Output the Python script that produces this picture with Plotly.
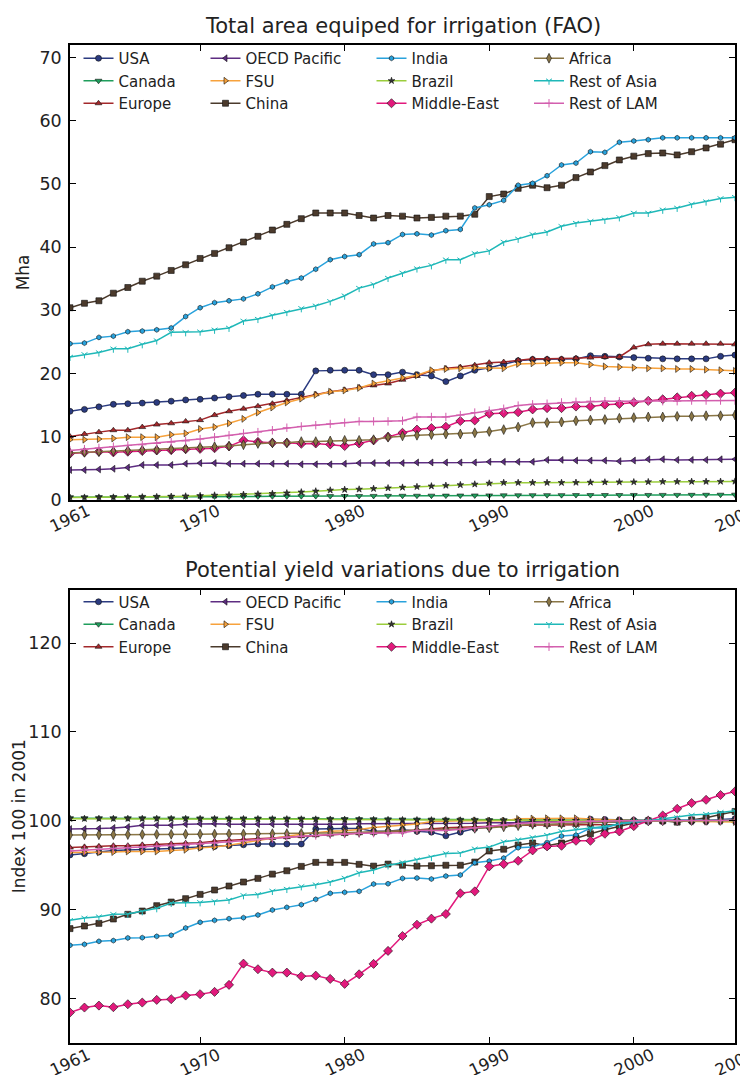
import plotly.graph_objects as go

years = list(range(1961, 2008))

regions = ["USA", "Canada", "Europe", "OECD Pacific", "FSU", "China",
           "India", "Brazil", "Middle-East", "Africa", "Rest of Asia", "Rest of LAM"]

# ---- Total area equipped for irrigation (Mha) ----
area_usa = [14.0, 14.3, 14.7, 15.1, 15.2, 15.3, 15.4, 15.6, 15.8, 15.9,
            16.1, 16.3, 16.5, 16.7, 16.7, 16.7, 16.7, 20.4, 20.5, 20.5,
            20.5, 19.8, 19.8, 20.2, 19.8, 19.6, 18.7, 19.6, 20.5, 20.9,
            21.4, 22.0, 22.2, 22.2, 22.2, 22.3, 22.8, 22.7, 22.6, 22.5,
            22.4, 22.3, 22.3, 22.3, 22.3, 22.7, 22.9]
area_canada = [0.40, 0.40, 0.41, 0.42, 0.43, 0.44, 0.45, 0.46, 0.47, 0.48,
               0.49, 0.50, 0.51, 0.52, 0.53, 0.54, 0.55, 0.56, 0.57, 0.58,
               0.59, 0.60, 0.61, 0.62, 0.63, 0.64, 0.65, 0.66, 0.67, 0.68,
               0.69, 0.70, 0.71, 0.72, 0.72, 0.73, 0.73, 0.74, 0.74, 0.75,
               0.75, 0.76, 0.76, 0.77, 0.78, 0.79, 0.80]
area_europe = [10.0, 10.4, 10.7, 11.0, 11.0, 11.5, 11.9, 12.1, 12.4, 12.6,
               13.4, 14.0, 14.4, 14.8, 15.2, 15.7, 16.2, 16.7, 17.1, 17.4,
               17.8, 18.1, 18.4, 19.0, 19.6, 20.4, 20.8, 21.0, 21.3, 21.7,
               21.8, 22.1, 22.3, 22.3, 22.3, 22.4, 22.5, 22.6, 22.6, 24.1,
               24.6, 24.7, 24.7, 24.7, 24.7, 24.7, 24.6]
area_oecd = [4.7, 4.7, 4.8, 4.9, 5.1, 5.5, 5.5, 5.5, 5.7, 5.8,
             5.8, 5.7, 5.7, 5.7, 5.7, 5.7, 5.6, 5.6, 5.6, 5.7,
             5.8, 5.8, 5.8, 5.8, 5.9, 5.9, 5.9, 5.9, 5.9, 6.0,
             6.0, 6.0, 6.0, 6.3, 6.3, 6.2, 6.2, 6.2, 6.1, 6.2,
             6.4, 6.4, 6.3, 6.3, 6.3, 6.4, 6.4]
area_fsu = [9.5, 9.5, 9.6, 9.7, 9.9, 9.9, 9.9, 10.3, 10.5, 11.2,
            11.5, 12.1, 12.8, 13.8, 14.6, 15.4, 16.0, 16.6, 17.1, 17.3,
            17.7, 18.4, 18.8, 19.3, 19.7, 20.5, 20.7, 20.8, 20.9, 20.8,
            20.8, 21.5, 21.6, 21.7, 21.7, 21.7, 21.4, 21.1, 21.0, 20.9,
            20.8, 20.8, 20.7, 20.7, 20.6, 20.5, 20.4]
area_china = [30.4, 31.1, 31.5, 32.7, 33.6, 34.6, 35.4, 36.3, 37.2, 38.2,
              39.0, 39.9, 40.8, 41.7, 42.7, 43.6, 44.5, 45.4, 45.4, 45.4,
              45.0, 44.6, 45.0, 44.9, 44.6, 44.7, 44.9, 44.9, 45.2, 48.0,
              48.4, 49.3, 49.8, 49.4, 49.8, 51.0, 51.9, 52.9, 53.8, 54.4,
              54.8, 54.9, 54.6, 55.1, 55.7, 56.3, 57.0]
area_india = [24.7, 24.8, 25.7, 25.9, 26.6, 26.7, 26.9, 27.2, 29.0, 30.4,
              31.2, 31.5, 31.8, 32.6, 33.7, 34.5, 35.1, 36.5, 38.0, 38.5,
              38.8, 40.5, 40.7, 42.0, 42.1, 41.9, 42.6, 42.8, 46.2, 46.7,
              47.4, 49.8, 50.1, 51.3, 53.0, 53.3, 55.1, 55.0, 56.6, 56.8,
              57.0, 57.3, 57.3, 57.3, 57.3, 57.3, 57.3]
area_brazil = [0.35, 0.36, 0.37, 0.38, 0.40, 0.42, 0.45, 0.50, 0.55, 0.62,
               0.70, 0.75, 0.82, 0.88, 0.95, 1.05, 1.20, 1.35, 1.50, 1.60,
               1.65, 1.75, 1.85, 1.95, 2.05, 2.15, 2.25, 2.35, 2.45, 2.60,
               2.70, 2.70, 2.70, 2.70, 2.70, 2.72, 2.75, 2.78, 2.80, 2.80,
               2.82, 2.85, 2.85, 2.87, 2.87, 2.88, 2.90]
area_me = [7.3, 7.5, 7.6, 7.5, 7.6, 7.7, 7.8, 7.85, 8.0, 8.05,
           8.15, 8.45, 9.4, 9.15, 9.0, 9.0, 8.85, 8.9, 8.75, 8.5,
           8.9, 9.4, 9.95, 10.6, 11.1, 11.35, 11.55, 12.45, 12.55, 13.6,
           13.7, 13.85, 14.3, 14.5, 14.5, 14.75, 14.75, 15.05, 15.15, 15.4,
           15.65, 15.9, 16.2, 16.45, 16.6, 16.8, 16.95]
area_africa = [7.4, 7.5, 7.6, 7.7, 7.8, 7.9, 7.9, 8.0, 8.1, 8.3,
               8.4, 8.5, 8.7, 8.9, 9.0, 9.0, 9.2, 9.2, 9.3, 9.4,
               9.4, 9.5, 9.9, 10.1, 10.2, 10.3, 10.4, 10.4, 10.6, 10.8,
               11.1, 11.5, 12.2, 12.2, 12.3, 12.5, 12.6, 12.7, 12.9, 13.0,
               13.1, 13.1, 13.2, 13.2, 13.3, 13.3, 13.4]
area_roa = [22.6, 23.0, 23.3, 23.9, 23.9, 24.6, 25.2, 26.5, 26.5, 26.6,
            26.9, 27.2, 28.3, 28.6, 29.2, 29.7, 30.3, 30.7, 31.4, 32.3,
            33.5, 34.1, 35.1, 35.9, 36.6, 37.1, 38.0, 38.0, 39.0, 39.4,
            40.8, 41.3, 42.0, 42.4, 43.3, 43.8, 44.1, 44.3, 44.7, 45.4,
            45.4, 45.9, 46.2, 46.8, 47.2, 47.7, 47.9]
area_lam = [7.8, 8.0, 8.2, 8.4, 8.6, 8.7, 8.9, 9.1, 9.3, 9.6,
            9.9, 10.2, 10.5, 10.7, 11.0, 11.4, 11.6, 11.8, 12.0, 12.2,
            12.4, 12.4, 12.4, 12.5, 13.1, 13.1, 13.1, 13.4, 13.8, 14.1,
            14.4, 14.9, 15.1, 15.2, 15.4, 15.5, 15.6, 15.6, 15.6, 15.6,
            15.6, 15.6, 15.6, 15.7, 15.7, 15.7, 15.7]

# ---- Potential yield variations (index 100 in 2001) ----
idx_usa = [96.16, 96.30, 96.48, 96.66, 96.71, 96.75, 96.80, 96.89, 96.98, 97.03,
           97.12, 97.21, 97.30, 97.39, 97.39, 97.39, 97.39, 99.08, 99.13, 99.13,
           99.13, 98.81, 98.81, 98.99, 98.81, 98.72, 98.31, 98.72, 99.13, 99.31,
           99.54, 99.82, 99.91, 99.91, 99.91, 99.95, 100.18, 100.14, 100.09, 100.05,
           100.0, 99.95, 99.95, 99.95, 99.95, 100.14, 100.23]
idx_canada = [100.30, 100.30, 100.30, 100.29, 100.29, 100.29, 100.28, 100.28, 100.28, 100.27,
              100.27, 100.26, 100.26, 100.25, 100.25, 100.24, 100.23, 100.22, 100.21, 100.20,
              100.19, 100.18, 100.16, 100.15, 100.14, 100.13, 100.12, 100.11, 100.10, 100.08,
              100.07, 100.06, 100.05, 100.04, 100.03, 100.03, 100.02, 100.02, 100.01, 100.01,
              100.0, 100.0, 100.0, 99.99, 99.99, 99.98, 99.98]
idx_europe = [96.99, 97.07, 97.13, 97.20, 97.20, 97.30, 97.38, 97.42, 97.48, 97.53,
              97.69, 97.81, 97.90, 97.98, 98.06, 98.16, 98.27, 98.37, 98.45, 98.51,
              98.60, 98.66, 98.72, 98.84, 98.97, 99.13, 99.21, 99.26, 99.32, 99.40,
              99.42, 99.48, 99.52, 99.52, 99.52, 99.54, 99.56, 99.58, 99.58, 99.90,
              100.0, 100.02, 100.02, 100.02, 100.02, 100.02, 100.0]
idx_oecd = [99.08, 99.08, 99.13, 99.19, 99.30, 99.51, 99.51, 99.51, 99.62, 99.67,
            99.67, 99.62, 99.62, 99.62, 99.62, 99.62, 99.57, 99.57, 99.57, 99.62,
            99.67, 99.67, 99.67, 99.67, 99.73, 99.73, 99.73, 99.73, 99.73, 99.78,
            99.78, 99.78, 99.78, 99.94, 99.94, 99.89, 99.89, 99.89, 99.84, 99.89,
            100.0, 100.0, 99.94, 99.94, 99.94, 100.0, 100.0]
idx_fsu = [96.42, 96.42, 96.45, 96.48, 96.55, 96.55, 96.55, 96.67, 96.74, 96.96,
           97.05, 97.24, 97.47, 97.78, 98.04, 98.29, 98.48, 98.67, 98.83, 98.89,
           99.02, 99.24, 99.37, 99.53, 99.65, 99.91, 99.97, 100.0, 100.03, 100.0,
           100.0, 100.22, 100.25, 100.28, 100.28, 100.28, 100.19, 100.10, 100.06, 100.03,
           100.0, 100.0, 99.97, 99.97, 99.94, 99.91, 99.87]
idx_china = [87.87, 88.16, 88.46, 88.95, 89.48, 89.85, 90.45, 90.86, 91.24, 91.72,
             92.21, 92.66, 93.11, 93.52, 94.00, 94.38, 94.87, 95.32, 95.32, 95.32,
             95.10, 94.90, 95.13, 95.00, 94.90, 94.94, 95.00, 95.00, 95.36, 96.60,
             96.80, 97.27, 97.50, 97.20, 97.50, 98.05, 98.54, 98.99, 99.40, 99.74,
             100.0, 100.0, 99.85, 100.10, 100.34, 100.70, 101.05]
idx_india = [85.99, 86.10, 86.44, 86.52, 86.82, 86.85, 87.00, 87.12, 87.94, 88.58,
             88.80, 88.99, 89.10, 89.40, 89.96, 90.26, 90.56, 91.16, 91.84, 91.95,
             92.06, 92.88, 92.92, 93.52, 93.56, 93.45, 93.78, 93.90, 95.28, 95.47,
             95.80, 96.97, 97.04, 97.57, 98.28, 98.39, 99.18, 99.18, 99.70, 99.81,
             100.0, 100.1, 100.1, 100.1, 100.1, 100.1, 100.1]
idx_brazil = [100.24, 100.24, 100.24, 100.24, 100.24, 100.24, 100.24, 100.23, 100.23, 100.23,
              100.22, 100.22, 100.21, 100.21, 100.20, 100.19, 100.18, 100.17, 100.15, 100.14,
              100.13, 100.12, 100.11, 100.10, 100.09, 100.08, 100.07, 100.06, 100.05, 100.03,
              100.02, 100.02, 100.02, 100.02, 100.02, 100.02, 100.01, 100.01, 100.0, 100.0,
              100.0, 99.99, 99.99, 99.99, 99.99, 99.98, 99.98]
idx_me = [78.43, 78.99, 79.21, 79.03, 79.36, 79.55, 79.85, 79.93, 80.34, 80.49,
          80.75, 81.54, 83.93, 83.30, 82.92, 82.92, 82.51, 82.58, 82.21, 81.65,
          82.73, 83.90, 85.36, 87.04, 88.31, 88.99, 89.51, 91.84, 92.06, 94.87,
          95.13, 95.50, 96.67, 97.12, 97.19, 97.75, 97.75, 98.54, 98.80, 99.40,
          100.0, 100.60, 101.35, 102.00, 102.36, 102.90, 103.30]
idx_africa = [98.40, 98.42, 98.43, 98.44, 98.45, 98.46, 98.47, 98.48, 98.49, 98.50,
              98.51, 98.52, 98.53, 98.54, 98.55, 98.56, 98.58, 98.60, 98.62, 98.65,
              98.70, 98.75, 98.85, 98.92, 98.96, 99.00, 99.05, 99.08, 99.15, 99.22,
              99.32, 99.45, 99.60, 99.62, 99.66, 99.72, 99.76, 99.80, 99.88, 99.94,
              100.0, 100.0, 100.02, 100.02, 100.04, 100.04, 100.06]
idx_roa = [88.80, 89.06, 89.21, 89.48, 89.51, 89.81, 90.15, 90.75, 90.75, 90.82,
           90.94, 91.09, 91.61, 91.72, 92.10, 92.32, 92.62, 92.81, 93.11, 93.56,
           94.16, 94.46, 94.98, 95.32, 95.62, 95.92, 96.33, 96.37, 96.85, 97.04,
           97.64, 97.87, 98.13, 98.39, 98.80, 99.03, 99.18, 99.36, 99.63, 99.93,
           100.0, 100.22, 100.37, 100.64, 100.75, 100.97, 101.12]
idx_lam = [96.61, 96.70, 96.78, 96.87, 96.96, 97.00, 97.09, 97.18, 97.26, 97.39,
           97.52, 97.65, 97.78, 97.87, 98.00, 98.18, 98.26, 98.35, 98.44, 98.52,
           98.61, 98.61, 98.61, 98.65, 98.92, 98.92, 98.92, 99.05, 99.22, 99.35,
           99.48, 99.70, 99.79, 99.83, 99.92, 99.96, 100.0, 100.0, 100.0, 100.0,
           100.0, 100.0, 100.0, 100.04, 100.04, 100.04, 100.04]

area_series = [area_usa, area_canada, area_europe, area_oecd, area_fsu, area_china,
               area_india, area_brazil, area_me, area_africa, area_roa, area_lam]
index_series = [idx_usa, idx_canada, idx_europe, idx_oecd, idx_fsu, idx_china,
                idx_india, idx_brazil, idx_me, idx_africa, idx_roa, idx_lam]

xtick_vals = [1961, 1970, 1980, 1990, 2000, 2007]
xtick_text = ["1961", "1970", "1980", "1990", "2000", "2007"]
ytick_top = [0, 10, 20, 30, 40, 50, 60, 70]
ytick_bottom = [80, 90, 100, 110, 120]

# styles: (line colour, marker symbol, marker fill, marker size, line-type marker)
styles = [
    ("#2b3b80", "circle", "#2b3b80", 6, False),
    ("#1f9e5c", "triangle-down", "#1f9e5c", 6, False),
    ("#a3282b", "triangle-up", "#a3282b", 6, False),
    ("#5e2d82", "triangle-left", "#5e2d82", 6, False),
    ("#f7a23c", "triangle-right", "#f7a23c", 6, False),
    ("#4b3a2c", "square", "#4b3a2c", 6, False),
    ("#29a2dc", "hexagon", "#29a2dc", 5, False),
    ("#9bcd3c", "star", "#333333", 5, False),
    ("#e2197c", "diamond", "#e2197c", 7, False),
    ("#8a7646", "diamond-tall", "#8a7646", 7, False),
    ("#1fb8b8", "y-down", "#1fb8b8", 5, True),
    ("#d35fae", "cross-thin", "#d35fae", 6, True),
]

FONT = "DejaVu Sans"
TXT = "#222222"

# plot-area geometry (pixels)
L, R, T, B = 62, 21, 37, 40
W, H = 748, 1075
PW, PH = W - L - R, H - T - B

fig = go.Figure()

for panel, (data, xa, ya, leg0) in enumerate([(area_series, "x", "y", 0), (index_series, "x2", "y2", 4)]):
    for i, name in enumerate(regions):
        col, sym, face, size, linemark = styles[i]
        legnum = leg0 + i // 3 + 1
        legname = "legend" if legnum == 1 else "legend%d" % legnum
        if linemark:
            marker = dict(symbol=sym, size=size, color=col, line=dict(color=col, width=1))
        else:
            marker = dict(symbol=sym, size=size, color=face, line=dict(color="#111111", width=0.6))
        fig.add_trace(go.Scatter(
            x=years, y=data[i], name=name, mode="lines+markers",
            line=dict(color=col, width=1.5), marker=marker,
            xaxis=xa, yaxis=ya, legend=legname, showlegend=True,
        ))

axis_common = dict(ticks="inside", ticklen=6, tickwidth=1, tickcolor="black",
                   showline=True, linecolor="black", linewidth=1.5, mirror="ticks",
                   showgrid=False, zeroline=False)

top_dom = [(H - B - 491.7) / PH, 1.0]
bot_dom = [0.0, (H - B - 581.7) / PH]

fig.update_layout(
    width=W, height=H,
    margin=dict(l=L, r=R, t=T, b=B, autoexpand=False),
    paper_bgcolor="white", plot_bgcolor="white",
    font=dict(family=FONT, color=TXT, size=16),
    xaxis=dict(domain=[0, 1], anchor="y", range=[1961, 2007], tickvals=[1970, 1980, 1990, 2000],
               showticklabels=False, **axis_common),
    yaxis=dict(domain=top_dom, anchor="x", range=[0, 72], tickvals=ytick_top,
               tickfont=dict(size=17.5, color=TXT), ticklabelstandoff=3, **axis_common),
    xaxis2=dict(domain=[0, 1], anchor="y2", range=[1961, 2007], tickvals=[1970, 1980, 1990, 2000],
                showticklabels=False, **axis_common),
    yaxis2=dict(domain=bot_dom, anchor="x2", range=[75, 126], tickvals=ytick_bottom,
                tickfont=dict(size=17.5, color=TXT), ticklabelstandoff=3, **axis_common),
)

# legends: four columns per panel (paper coordinates, inside the plot area)
col_text_x = [118.5, 245.5, 411.5, 569]
leg_top_px = [34, 577.5]
for p in range(2):
    for c in range(4):
        n = p * 4 + c + 1
        key = "legend" if n == 1 else "legend%d" % n
        fig.update_layout(**{key: dict(
            xref="paper", yref="paper",
            x=(col_text_x[c] - 48 - L) / PW, y=(H - B - leg_top_px[p]) / PH,
            xanchor="left", yanchor="top",
            bgcolor="rgba(0,0,0,0)", borderwidth=0,
            font=dict(family=FONT, size=15, color=TXT),
            itemwidth=30, tracegroupgap=0,
        )})

annotations = []
# panel titles
annotations.append(dict(text="Total area equiped for irrigation (FAO)", x=0.5, xref="paper",
                        y=1, yref="y domain", yshift=19, showarrow=False,
                        xanchor="center", yanchor="middle", font=dict(size=21, color=TXT)))
annotations.append(dict(text="Potential yield variations due to irrigation", x=0.5, xref="paper",
                        y=1, yref="y2 domain", yshift=20, showarrow=False,
                        xanchor="center", yanchor="middle", font=dict(size=21, color=TXT)))
# y axis titles
annotations.append(dict(text="Mha", x=0, xref="paper", xshift=-47, y=0.5, yref="y domain",
                        textangle=-90, showarrow=False, xanchor="center", yanchor="middle",
                        font=dict(size=17, color=TXT)))
annotations.append(dict(text="Index 100 in 2001", x=0, xref="paper", xshift=-51, y=0.5, yref="y2 domain",
                        textangle=-90, showarrow=False, xanchor="center", yanchor="middle",
                        font=dict(size=17, color=TXT)))
# rotated x tick labels
for xa, ydom in [("x", "y domain"), ("x2", "y2 domain")]:
    for v, t in zip(xtick_vals, xtick_text):
        annotations.append(dict(text=t, x=v, xref=xa, y=0, yref=ydom, yshift=-19,
                                textangle=-25, showarrow=False, xanchor="center", yanchor="middle",
                                font=dict(size=16.5, color=TXT)))
fig.update_layout(annotations=annotations)

fig.write_html("out.html")
